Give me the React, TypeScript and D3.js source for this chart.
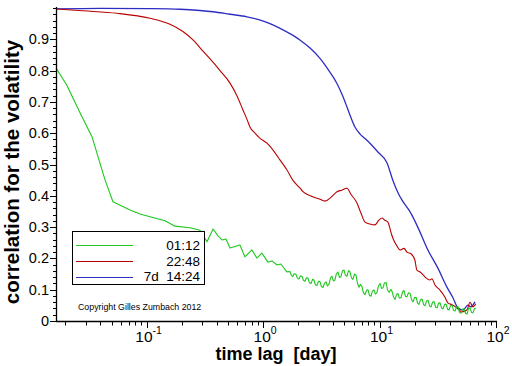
import React from "react";
import * as d3 from "d3";

// ---------- data ----------
const greenLag = [
  0.0167, 0.0206, 0.0268, 0.034, 0.044, 0.0514, 0.072, 0.0877, 0.107, 0.144,
  0.175, 0.236, 0.287, 0.33, 0.372, 0.41, 0.444, 0.48, 0.52, 0.573, 0.633,
  0.698, 0.802, 0.885, 0.977, 1.1, 1.19, 1.32, 1.42, 1.6,
  1.7, 1.75, 1.8, 1.85, 1.91, 1.97, 2.03, 2.09, 2.16, 2.22, 2.29, 2.36, 2.43,
  2.5, 2.58, 2.66, 2.73, 2.81, 2.9, 2.99, 3.08, 3.17, 3.27, 3.37, 3.47, 3.57,
  3.68, 3.79, 3.9, 4.02, 4.14, 4.26, 4.4, 4.53, 4.66, 4.8, 4.95, 5.1, 5.25,
  5.41, 5.57, 5.74, 5.91, 6.09, 6.28, 6.47, 6.66, 6.86, 7.06, 7.27, 7.5, 7.73,
  7.95, 8.19, 8.44, 8.69, 8.96, 9.23, 9.5, 9.79, 10.1, 10.4, 10.7, 11.0, 11.4,
  11.7, 12.1, 12.5, 12.8, 13.2, 13.6, 14.0, 14.4, 14.8, 15.3, 15.8, 16.2, 16.7,
  17.2, 17.7, 18.3, 18.9, 19.4, 20.0, 20.6, 21.2, 21.8, 22.5, 23.2, 23.9, 24.6,
  25.3, 26.1, 26.9, 27.7, 28.5, 29.4, 30.3, 31.2, 32.1, 33.1, 34.1, 35.1, 36.2,
  37.3, 38.4, 39.5, 40.7, 41.9, 43.2, 44.5, 45.8, 47.2, 48.6, 50.1, 51.6, 53.2,
  54.8, 56.4, 58.1, 59.9, 61.7, 63.5, 65.4, 67.4,
];
const greenVal = [
  0.808, 0.754, 0.665, 0.588, 0.45, 0.381, 0.355, 0.342, 0.333, 0.32,
  0.303, 0.298, 0.29, 0.253, 0.294, 0.272, 0.259, 0.262, 0.233, 0.238, 0.243,
  0.205, 0.227, 0.201, 0.217, 0.188, 0.192, 0.179, 0.182, 0.157,
  0.158, 0.146, 0.142, 0.151, 0.15, 0.137, 0.134, 0.144, 0.143, 0.13, 0.127,
  0.138, 0.137, 0.122, 0.12, 0.133, 0.131, 0.116, 0.113, 0.127, 0.126, 0.11,
  0.107, 0.121, 0.125, 0.112, 0.117, 0.138, 0.143, 0.128, 0.131, 0.151, 0.156,
  0.139, 0.141, 0.16, 0.163, 0.145, 0.143, 0.161, 0.158, 0.138, 0.133, 0.15,
  0.146, 0.12, 0.108, 0.117, 0.11, 0.09, 0.084, 0.098, 0.1, 0.082, 0.079,
  0.096, 0.099, 0.086, 0.091, 0.112, 0.12, 0.104, 0.106, 0.121, 0.123, 0.099,
  0.091, 0.101, 0.095, 0.076, 0.069, 0.085, 0.088, 0.073, 0.075, 0.094, 0.098,
  0.079, 0.077, 0.09, 0.088, 0.067, 0.061, 0.075, 0.076, 0.057, 0.053, 0.068,
  0.07, 0.052, 0.049, 0.064, 0.066, 0.048, 0.045, 0.06, 0.062, 0.044, 0.042,
  0.057, 0.058, 0.041, 0.039, 0.053, 0.054, 0.037, 0.035, 0.049, 0.051, 0.034,
  0.032, 0.045, 0.046, 0.028, 0.025, 0.038, 0.039, 0.024, 0.022, 0.04, 0.042,
  0.027, 0.026, 0.04, 0.041,
];

const redLag = [
  0.0167, 0.0284, 0.0557, 0.107, 0.1586, 0.205, 0.25, 0.305, 0.357, 0.427,
  0.52, 0.596, 0.672, 0.726, 0.771, 0.852, 0.931, 1.08, 1.24, 1.4, 1.6, 1.8,
  2.07, 2.2, 2.63, 3.08, 3.4, 3.82, 4.31, 4.75, 5.25, 5.68, 6.4, 6.92, 7.5,
  8.27, 9.12, 9.87, 10.5, 11.1, 11.8, 12.5, 13.0, 14.1, 15.0, 16.2, 17.2, 18.6,
  20.1, 20.9, 22.6, 24.5, 27.1, 28.2, 29.9, 33.0, 36.4, 38.6, 41.9, 46.1, 50.9,
  56.2, 59.9, 63.3, 67.2,
];
const redVal = [
  0.997, 0.991, 0.983, 0.967, 0.948, 0.925, 0.898, 0.862, 0.834, 0.8, 0.76,
  0.72, 0.674, 0.645, 0.62, 0.6, 0.585, 0.568, 0.542, 0.514, 0.483, 0.45,
  0.425, 0.413, 0.398, 0.389, 0.383, 0.395, 0.413, 0.418, 0.424, 0.405, 0.377,
  0.345, 0.316, 0.31, 0.307, 0.322, 0.329, 0.322, 0.316, 0.285, 0.265, 0.24,
  0.227, 0.232, 0.22, 0.215, 0.195, 0.163, 0.155, 0.141, 0.131, 0.135, 0.115,
  0.099, 0.077, 0.058, 0.052, 0.042, 0.029, 0.035, 0.06, 0.045, 0.055,
];

const blueLag = [
  0.0167, 0.0398, 0.107, 0.193, 0.287, 0.372, 0.52, 0.726, 0.931, 1.145, 1.4,
  1.7, 2.07, 2.53, 3.08, 3.6, 4.31, 4.75, 5.25, 5.68, 6.15, 6.78, 7.5, 8.27,
  9.68, 11.6, 13.0, 14.4, 15.6, 18.2, 21.3, 26.0, 31.7, 37.8, 42.6, 47.1, 52.0,
  57.4, 60.9, 65.9,
];
const blueVal = [
  0.997, 0.999, 0.998, 0.996, 0.992, 0.988, 0.98, 0.972, 0.962, 0.95, 0.935,
  0.918, 0.898, 0.872, 0.839, 0.805, 0.759, 0.725, 0.684, 0.65, 0.62, 0.598,
  0.583, 0.568, 0.54, 0.505, 0.45, 0.41, 0.386, 0.35, 0.3, 0.227, 0.169, 0.109,
  0.075, 0.042, 0.035, 0.051, 0.045, 0.061,
];

const seriesNames = ["01:12", "22:48", "7d  14:24"];
const seriesColors = ["#1ec81e", "#b80000", "#2d2dc4"];

const yTicks = [0, 0.1, 0.2, 0.3, 0.4, 0.5, 0.6, 0.7, 0.8, 0.9];
const yTickLabels = ["0", "0.1", "0.2", "0.3", "0.4", "0.5", "0.6", "0.7", "0.8", "0.9"];
const xTicks = [0.1, 1, 10, 100];
const xTickExp = ["-1", "0", "1", "2"];

const FONT = "'Liberation Sans', Arial, Helvetica, sans-serif";

export default function App() {
  const x = d3.scaleLog().domain([1 / 60, 100]).range([56, 496]);
  const y = d3.scaleLinear().domain([0, 1]).range([321, 8]);

  const series = [
    greenLag.map((l, i) => [l, greenVal[i]] as [number, number]),
    redLag.map((l, i) => [l, redVal[i]] as [number, number]),
    blueLag.map((l, i) => [l, blueVal[i]] as [number, number]),
  ];
  const line = d3
    .line<[number, number]>()
    .x((d) => x(d[0]))
    .y((d) => y(d[1]));
  const smooth = d3
    .line<[number, number]>()
    .x((d) => x(d[0]))
    .y((d) => y(d[1]))
    .curve(d3.curveMonotoneX);

  const yMinor = d3.range(0, 1.001, 0.02);
  const xMinor: number[] = [];
  [0.01, 0.1, 1, 10].forEach((dec) => {
    for (let k = 2; k <= 9; k++) {
      const v = dec * k;
      if (v >= 1 / 60 && v <= 100) xMinor.push(v);
    }
  });

  const x0 = x.range()[0];
  const y0 = y.range()[0];

  return (
    <svg
      width={512}
      height={366}
      style={{ position: "absolute", left: 0, top: 0, background: "#fff" }}
      fontFamily={FONT}
    >
      <rect x={0} y={0} width={512} height={366} fill="#fff" />
      {/* curves */}
      {[2, 1, 0].map((i) => (
        <path
          key={i}
          d={(i === 0 ? line(series[i]) : smooth(series[i])) || ""}
          fill="none"
          stroke={seriesColors[i]}
          strokeWidth={i === 2 ? 1.3 : 1.1}
          strokeLinejoin="round"
        />
      ))}
      {/* y axis */}
      <line x1={x0 + 0.5} x2={x0 + 0.5} y1={7} y2={y0} stroke="#000" strokeWidth={1.3} />
      {yMinor.map((v, i) => (
        <line key={"ym" + i} x1={x0 - 3} x2={x0} y1={Math.round(y(v)) + 0.5} y2={Math.round(y(v)) + 0.5} stroke="#000" />
      ))}
      {yTicks.map((v, i) => (
        <g key={"yt" + i}>
          <line x1={x0 - 6} x2={x0} y1={Math.round(y(v)) + 0.5} y2={Math.round(y(v)) + 0.5} stroke="#000" />
          <text x={49} y={y(v) + 5} textAnchor="end" fontSize={14.5} fill="#000">
            {yTickLabels[i]}
          </text>
        </g>
      ))}
      {/* x axis */}
      <line x1={x0} x2={x.range()[1] + 1} y1={y0 + 0.5} y2={y0 + 0.5} stroke="#000" strokeWidth={1.3} />
      {xMinor.map((v, i) => (
        <line key={"xm" + i} x1={Math.round(x(v)) + 0.5} x2={Math.round(x(v)) + 0.5} y1={y0} y2={y0 + 4.5} stroke="#000" />
      ))}
      {xTicks.map((v, i) => (
        <g key={"xt" + i}>
          <line x1={Math.round(x(v)) + 0.5} x2={Math.round(x(v)) + 0.5} y1={y0} y2={y0 + 7} stroke="#000" />
          <text x={x(v) + 2} y={342} textAnchor="middle" fontSize={15.5} fill="#000">
            <tspan>10</tspan>
            <tspan dy={-8} fontSize={10.5}>
              {xTickExp[i]}
            </tspan>
          </text>
        </g>
      ))}
      {/* axis titles */}
      <text
        x={276}
        y={360}
        textAnchor="middle"
        fontSize={18}
        fontWeight="bold"
        style={{ whiteSpace: "pre" }}
      >
        {"time lag  [day]"}
      </text>
      <text
        transform="translate(19,172) rotate(-90)"
        textAnchor="middle"
        fontSize={20.5}
        fontWeight="bold"
      >
        correlation for the volatility
      </text>
      {/* legend */}
      <rect x={72.5} y={231.5} width={132} height={53} fill="#fff" stroke="#000" />
      {seriesNames.map((n, i) => (
        <g key={"lg" + i}>
          <line x1={76} x2={133} y1={245.5 + i * 16} y2={245.5 + i * 16} stroke={seriesColors[i]} strokeWidth={1} shapeRendering="crispEdges" />
          <text
            x={200}
            y={250 + i * 15.7}
            textAnchor="end"
            fontSize={13.5}
            style={{ whiteSpace: "pre" }}
          >
            {n}
          </text>
        </g>
      ))}
      <text x={78} y={310} fontSize={8.8} fill="#000">
        Copyright Gilles Zumbach 2012
      </text>
    </svg>
  );
}
